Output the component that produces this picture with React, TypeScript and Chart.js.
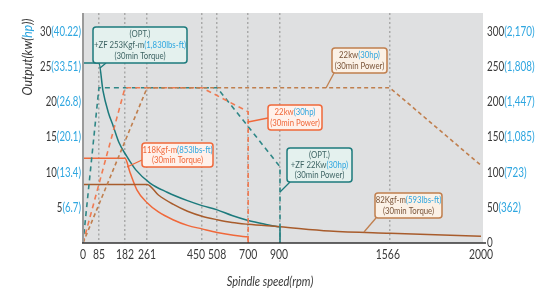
import React, { useEffect, useRef } from 'react';
import { Chart, registerables, LinearScale } from 'chart.js';

Chart.register(...registerables);

// ---------- data ----------
const X_TICKS = [0, 85, 182, 261, 450, 508, 700, 900, 1566, 2000];
const LEFT_TICKS = [5, 10, 15, 20, 25, 30];
const LEFT_HP = ['6.7', '13.4', '20.1', '26.8', '33.51', '40.22'];
const RIGHT_TICKS = [0, 50, 100, 150, 200, 250, 300];
const RIGHT_LBS = ['', '362', '723', '1,085', '1,447', '1,808', '2,170'];

// power (kW)
const OPT_POWER_RPM = [0, 85, 508, 700, 900, 900];
const OPT_POWER_KW = [0, 22, 22, 16.5, 10.8, 0];
const STD_POWER_RPM = [0, 182, 450, 700, 700];
const STD_POWER_KW = [0, 22, 22, 18.6, 0];
const HS_POWER_RPM = [0, 261, 1566, 2000];
const HS_POWER_KW = [0, 22, 22, 11];

// torque (kgf-m)
const OPT_TORQUE_RPM = [0, 85, 100, 120, 138, 160, 188, 220, 271, 330, 400, 450, 508, 600, 700, 800, 900, 900];
const OPT_TORQUE_KGFM = [255, 255, 216, 185, 166, 142, 123, 104, 85, 72, 60, 53, 47, 39, 32, 27, 23, 0];
const STD_TORQUE_RPM = [0, 182, 200, 225, 261, 300, 350, 400, 450, 508, 600, 700, 700];
const STD_TORQUE_KGFM = [120, 120, 100, 75, 57, 44, 33, 25, 20, 15, 11.5, 9, 0];
const HS_TORQUE_RPM = [0, 261, 300, 350, 400, 450, 508, 600, 700, 900, 1200, 1566, 2000];
const HS_TORQUE_KGFM = [83, 83, 68, 55, 45, 38, 33, 29, 26.5, 23, 17, 13.7, 9.5];

// ---------- axis layout (reference x axis is not drawn to scale) ----------
const X_TICK_FRACTIONS = [0, 0.04, 0.1055, 0.161, 0.299, 0.337, 0.415, 0.495, 0.771, 1];

function warp(v: number): number {
  if (v <= X_TICKS[0]) return 0;
  for (let i = 1; i < X_TICKS.length; i++) {
    if (v <= X_TICKS[i]) {
      const t = (v - X_TICKS[i - 1]) / (X_TICKS[i] - X_TICKS[i - 1]);
      return X_TICK_FRACTIONS[i - 1] + t * (X_TICK_FRACTIONS[i] - X_TICK_FRACTIONS[i - 1]);
    }
  }
  return 1;
}
function unwarp(f: number): number {
  if (f <= 0) return X_TICKS[0];
  for (let i = 1; i < X_TICK_FRACTIONS.length; i++) {
    if (f <= X_TICK_FRACTIONS[i]) {
      const t = (f - X_TICK_FRACTIONS[i - 1]) / (X_TICK_FRACTIONS[i] - X_TICK_FRACTIONS[i - 1]);
      return X_TICKS[i - 1] + t * (X_TICKS[i] - X_TICKS[i - 1]);
    }
  }
  return X_TICKS[X_TICKS.length - 1];
}

class WarpScale extends LinearScale {
  static id = 'warp';
  static defaults = LinearScale.defaults;
  getPixelForValue(value: number) {
    return this.getPixelForDecimal(warp(value));
  }
  getValueForPixel(pixel: number) {
    return unwarp(this.getDecimalForPixel(pixel));
  }
}
Chart.register(WarpScale as any);

// ---------- styling ----------
const FONT = 'Lato, "Liberation Sans", sans-serif';
const DARK = '#3a3a3a';
const BLUE = '#2ea6e0';
const TEAL = '#1c7a7c';
const TEAL_D = '#2f8787';
const ORANGE = '#f0683a';
const ORANGE_D = '#f07a52';
const BROWN = '#a85c2c';
const BROWN_D = '#c07f4e';

const pts = (xs: number[], ys: number[]) => xs.map((x, i) => ({ x, y: ys[i] }));

type Part = [string, string];
function rich(ctx: CanvasRenderingContext2D, parts: Part[], x: number, y: number, align: string, font: string, sx: number) {
  ctx.save();
  ctx.font = font;
  ctx.textBaseline = 'middle';
  ctx.textAlign = 'left';
  const w = parts.reduce((a, p) => a + ctx.measureText(p[0]).width, 0) * sx;
  const x0 = align === 'center' ? x - w / 2 : align === 'right' ? x - w : x;
  ctx.translate(x0, y);
  ctx.scale(sx, 1);
  let cx = 0;
  for (const [t, c] of parts) {
    ctx.fillStyle = c;
    ctx.fillText(t, cx, 0);
    cx += ctx.measureText(t).width;
  }
  ctx.restore();
}

type Box = { x: number; y: number; w: number; h: number; stroke: string; fill: string; lines: Part[][]; lead: number[] };
const TEAL_TXT = '#3e6464';
const BROWN_TXT = '#7a5438';
const BOXES: Box[] = [
  { x: 93, y: 27, w: 94, h: 36, stroke: TEAL, fill: '#e4f1ee',
    lines: [[['(OPT.)', TEAL_TXT]], [['+ZF 253Kgf-m', TEAL_TXT], ['(1,830lbs-ft)', BLUE]], [['(30min Torque)', TEAL_TXT]]],
    lead: [106, 63, 100, 68] },
  { x: 332, y: 48, w: 55, h: 25, stroke: BROWN_D, fill: '#fbf1e6',
    lines: [[['22kw', BROWN_TXT], ['(30hp)', BLUE]], [['(30min Power)', BROWN_TXT]]],
    lead: [334, 73, 326, 88] },
  { x: 268, y: 105, w: 54, h: 25, stroke: ORANGE, fill: '#fff1eb',
    lines: [[['22kw', ORANGE], ['(30hp)', BLUE]], [['(30min Power)', ORANGE]]],
    lead: [268, 118, 248, 122] },
  { x: 142, y: 143, w: 71, h: 24, stroke: ORANGE, fill: '#fff1eb',
    lines: [[['118Kgf-m', ORANGE], ['(853lbs-ft)', BLUE]], [['(30min Torque)', ORANGE]]],
    lead: [142, 160, 127, 167] },
  { x: 287, y: 148, w: 65, h: 34, stroke: TEAL, fill: '#e4f1ee',
    lines: [[['(OPT.)', TEAL_TXT]], [['+ZF 22Kw', TEAL_TXT], ['(30hp)', BLUE]], [['(30min Power)', TEAL_TXT]]],
    lead: [290, 182, 280, 192] },
  { x: 375, y: 193, w: 67, h: 25, stroke: BROWN_D, fill: '#fbf1e6',
    lines: [[['82Kgf-m', BROWN_TXT], ['(593lbs-ft)', BLUE]], [['(30min Torque)', BROWN_TXT]]],
    lead: [376, 218, 364, 232] },
];

const X_LABEL_NUDGE: Record<number, number> = { 450: -6, 900: -1, 1566: -2 };

const decorPlugin = {
  id: 'decor',
  beforeDraw(chart: any) {
    const { ctx, chartArea: a } = chart;
    ctx.save();
    ctx.fillStyle = '#dfe0e1';
    ctx.fillRect(a.left, a.top, a.right - a.left + 2, a.bottom - a.top);
    ctx.restore();
  },
  afterDraw(chart: any) {
    const { ctx, chartArea: a } = chart;
    const x = chart.scales.x, yl = chart.scales.y, yr = chart.scales.y2;
    ctx.save();
    ctx.strokeStyle = '#9a9a9a';
    ctx.lineWidth = 2;
    ctx.beginPath();
    ctx.moveTo(a.left, a.top);
    ctx.lineTo(a.left, a.bottom);
    ctx.stroke();
    ctx.strokeStyle = '#333';
    ctx.lineWidth = 1.5;
    ctx.beginPath();
    ctx.moveTo(a.left - 1, a.bottom);
    ctx.lineTo(a.right + 5, a.bottom);
    ctx.stroke();
    ctx.restore();

    const tickFont = `13px ${FONT}`;
    LEFT_TICKS.forEach((v, i) => {
      rich(ctx, [[String(v), DARK], ['(' + LEFT_HP[i] + ')', BLUE]], a.left - 2, yl.getPixelForValue(v), 'right', tickFont, 0.74);
    });
    RIGHT_TICKS.forEach((v, i) => {
      const parts: Part[] = [[String(v), DARK]];
      if (RIGHT_LBS[i]) parts.push(['(' + RIGHT_LBS[i] + ')', BLUE]);
      rich(ctx, parts, a.right + 6, yr.getPixelForValue(v), 'left', tickFont, 0.76);
    });
    X_TICKS.forEach((v) => {
      rich(ctx, [[String(v), DARK]], x.getPixelForValue(v) + (X_LABEL_NUDGE[v] || 0), a.bottom + 12, 'center', tickFont, 0.8);
    });
    rich(ctx, [['Spindle speed(rpm)', DARK]], 270, 282, 'center', `italic 13px ${FONT}`, 0.85);
    ctx.save();
    ctx.translate(28, 57);
    ctx.rotate(-Math.PI / 2);
    rich(ctx, [['Output(kw(', DARK], ['hp', BLUE], ['))', DARK]], 0, 0, 'center', `italic 13.5px ${FONT}`, 0.9);
    ctx.restore();

    for (const b of BOXES) {
      ctx.save();
      ctx.strokeStyle = b.stroke;
      ctx.lineWidth = 1.3;
      ctx.beginPath();
      ctx.moveTo(b.lead[0], b.lead[1]);
      ctx.lineTo(b.lead[2], b.lead[3]);
      ctx.stroke();
      ctx.beginPath();
      (ctx as any).roundRect(b.x, b.y, b.w, b.h, 3);
      ctx.fillStyle = b.fill;
      ctx.fill();
      ctx.lineWidth = 1.5;
      ctx.stroke();
      ctx.restore();
      const n = b.lines.length;
      const lh = (b.h - 4) / n;
      b.lines.forEach((ln, i) => {
        rich(ctx, ln, b.x + b.w / 2, b.y + 2 + lh * (i + 0.5), 'center', `9.5px ${FONT}`, 0.82);
      });
    }
  },
};

export default function App() {
  const ref = useRef<HTMLCanvasElement>(null);
  useEffect(() => {
    if (!ref.current) return;
    const dashed = (data: any, color: string, dash: number[]) => ({
      data, yAxisID: 'y', borderColor: color, borderWidth: 1.6, borderDash: dash,
      pointRadius: 0, tension: 0, fill: false,
    });
    const solid = (data: any, color: string) => ({
      data, yAxisID: 'y2', borderColor: color, borderWidth: 1.5,
      pointRadius: 0, cubicInterpolationMode: 'monotone', fill: false,
    });
    const chart = new Chart(ref.current, {
      type: 'line',
      data: {
        datasets: [
          dashed(pts(HS_POWER_RPM, HS_POWER_KW), BROWN_D, [4, 3]),
          dashed(pts(STD_POWER_RPM, STD_POWER_KW), ORANGE_D, [5, 4]),
          dashed(pts(OPT_POWER_RPM, OPT_POWER_KW), TEAL_D, [5, 4]),
          solid(pts(HS_TORQUE_RPM, HS_TORQUE_KGFM), BROWN),
          solid(pts(STD_TORQUE_RPM, STD_TORQUE_KGFM), ORANGE),
          solid(pts(OPT_TORQUE_RPM, OPT_TORQUE_KGFM), TEAL),
        ] as any,
      },
      options: {
        animation: false,
        responsive: false,
        maintainAspectRatio: false,
        layout: { padding: { left: 83, right: 57, top: 13, bottom: 48 } },
        plugins: { legend: { display: false }, tooltip: { enabled: false } },
        scales: {
          x: {
            type: 'warp' as any,
            min: 0,
            max: 2000,
            afterBuildTicks: (s: any) => { s.ticks = X_TICKS.map((v) => ({ value: v })); },
            afterFit: (s: any) => { s.height = 0; },
            ticks: { display: false },
            border: { display: false, dash: [2, 2.5] },
            grid: {
              drawTicks: false,
              lineWidth: 1.5,
              color: (c: any) => (c.tick && (c.tick.value === 0 || c.tick.value === 2000) ? 'rgba(0,0,0,0)' : '#a9a9a9'),
            },
          },
          y: { type: 'linear', display: false, min: 0, max: 32.6 },
          y2: { type: 'linear', display: false, min: 0, max: 326 },
        },
      } as any,
      plugins: [decorPlugin],
    });
    return () => chart.destroy();
  }, []);
  return (
    <div style={{ position: 'fixed', left: 0, top: 0, width: 538, height: 291, background: '#fff' }}>
      <canvas ref={ref} width={538} height={291} style={{ width: 538, height: 291, display: 'block' }} />
    </div>
  );
}
